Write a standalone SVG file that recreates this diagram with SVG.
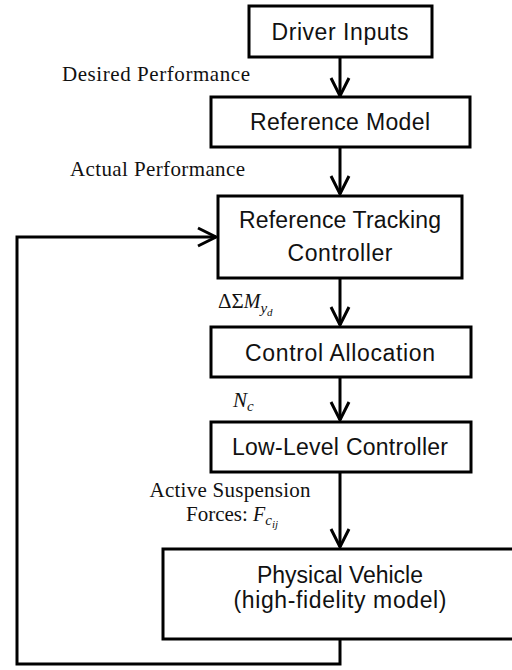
<svg xmlns="http://www.w3.org/2000/svg" width="512" height="670" viewBox="0 0 512 670">
<defs>
<marker id="arr" markerUnits="userSpaceOnUse" markerWidth="24" markerHeight="24" viewBox="-2 -2 24 24" refX="18" refY="9" orient="auto">
<path d="M0,0 L18,9 L0,18" fill="none" stroke="#000" stroke-width="3"/>
</marker>
</defs>
<style>
.box{fill:#fff;stroke:#000;stroke-width:3}
.bt{font-family:"Liberation Sans",Arial,sans-serif;font-size:23px;fill:#111;text-anchor:middle}
.lb{font-family:"Liberation Serif","DejaVu Serif",serif;font-size:21px;fill:#111}
.m{font-family:"Liberation Serif","DejaVu Serif",serif;font-style:italic;fill:#111}
.ln{fill:none;stroke:#000;stroke-width:3}
</style>
<rect width="512" height="670" fill="#fff"/>
<g id="connectors">
<line class="ln" x1="340" y1="57" x2="340" y2="96" marker-end="url(#arr)"/>
<line class="ln" x1="340" y1="147" x2="340" y2="194" marker-end="url(#arr)"/>
<line class="ln" x1="340" y1="278" x2="340" y2="325" marker-end="url(#arr)"/>
<line class="ln" x1="340" y1="377" x2="340" y2="420" marker-end="url(#arr)"/>
<line class="ln" x1="340" y1="472" x2="340" y2="547" marker-end="url(#arr)"/>
<polyline class="ln" points="340,639 340,664 17,664 17,237 216,237" marker-end="url(#arr)"/>
</g>
<g id="driver-inputs">
<rect class="box" x="249" y="6" width="183" height="51"/>
<text class="bt" x="340" y="40" textLength="137">Driver Inputs</text>
</g>
<g id="reference-model">
<rect class="box" x="211" y="97" width="259" height="50"/>
<text class="bt" x="340" y="130" textLength="180">Reference Model</text>
</g>
<g id="reference-tracking-controller">
<rect class="box" x="218" y="196" width="244" height="82"/>
<text class="bt" x="340" y="228" textLength="202">Reference Tracking</text>
<text class="bt" x="340" y="261" textLength="105">Controller</text>
</g>
<g id="control-allocation">
<rect class="box" x="211" y="327" width="260" height="50"/>
<text class="bt" x="340" y="361" textLength="190">Control Allocation</text>
</g>
<g id="low-level-controller">
<rect class="box" x="211" y="422" width="260" height="50"/>
<text class="bt" x="340" y="455" textLength="216">Low-Level Controller</text>
</g>
<g id="physical-vehicle">
<rect class="box" x="163" y="549" width="360" height="90"/>
<text class="bt" x="340" y="583" textLength="166">Physical Vehicle</text>
<text class="bt" x="340" y="608" textLength="213">(high-fidelity model)</text>
</g>
<g id="labels">
<text class="lb" x="62" y="81" textLength="188">Desired Performance</text>
<text class="lb" x="70" y="176" textLength="175">Actual Performance</text>
<text x="218" y="308" font-size="20"><tspan class="lb" font-size="20">ΔΣ</tspan><tspan class="m">M</tspan><tspan class="m" font-size="15" dy="5">y</tspan><tspan class="m" font-size="11" dy="3">d</tspan></text>
<text class="m" x="233" y="407" font-size="21">N<tspan font-size="15" dy="4">c</tspan></text>
<text class="lb" x="230" y="497" text-anchor="middle" textLength="161">Active Suspension</text>
<text x="186" y="521" font-size="20"><tspan class="lb" font-size="20">Forces: </tspan><tspan class="m">F</tspan><tspan class="m" font-size="15" dy="4">c</tspan><tspan class="m" font-size="11" dy="3">ij</tspan></text>
</g>
</svg>
